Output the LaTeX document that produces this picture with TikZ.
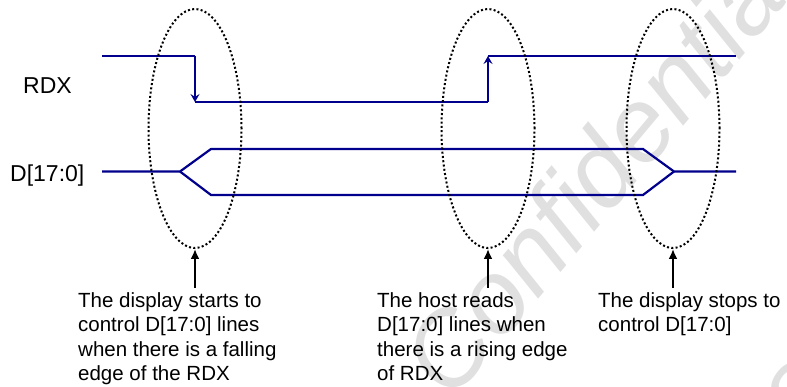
\documentclass[tikz,border=0pt]{standalone}
\usepackage{fontspec}
\setmainfont{Liberation Sans}
\usetikzlibrary{shapes.geometric,arrows.meta}
\definecolor{sig}{RGB}{0,0,140}
\definecolor{wm}{RGB}{224,224,224}
\tikzset{
  signal/.style={draw=sig,line width=2.2pt},
  edgearrow/.style={draw=sig,line width=2pt,-{Stealth[length=8pt,width=9pt,inset=3pt]}},
  focus/.style={draw=black,ellipse,line width=2pt,dash pattern=on 2pt off 2.3pt,minimum width=93pt,minimum height=239pt,inner sep=0pt},
  pointer/.style={draw=black,line width=2.8pt,-{Latex[length=10pt,width=9pt]}},
  note/.style={anchor=north west,inner sep=0pt,align=left,font=\fontsize{20.5}{24.5}\selectfont},
  siglabel/.style={anchor=base west,inner sep=0pt,font=\fontsize{23}{28}\selectfont},
  watermark/.style={rotate=50,text=wm,inner sep=0pt,font=\fontsize{104}{104}\selectfont\itshape}
}
\begin{document}
\begin{tikzpicture}[x=1pt,y=-1pt]
\useasboundingbox (0,0) rectangle (787,387);
% watermark
\node[watermark] (wmark) at (600,168) {Confidential};
\node[watermark] (wmark2) at (900,256) {Confidential};
% labels
\node[siglabel] (lrdx) at (23,94) {RDX};
\node[siglabel] (ld) at (10,181.7) {D[17:0]};
% RDX
\coordinate (r0) at (102,56);
\coordinate (r1) at (195,56);
\coordinate (r2) at (195,102);
\coordinate (r3) at (488,102);
\coordinate (r4) at (488,56);
\coordinate (r5) at (736,56);
\draw[signal] (r0) -- (r1);
\draw[edgearrow] (r1) -- (r2);
\draw[signal] (r2) -- (r3);
\draw[edgearrow] (r3) -- (r4);
\draw[signal] (r4) -- (r5);
% D bus
\coordinate (d0) at (102,171.5);
\coordinate (d1) at (180,171.5);
\coordinate (du) at (211,149);
\coordinate (dl) at (211,195);
\coordinate (eu) at (643,149);
\coordinate (el) at (643,195);
\coordinate (d2) at (674,171.5);
\coordinate (d3) at (736,171.5);
\draw[signal,line join=miter] (d0) -- (d1) -- (du) -- (eu) -- (d2) -- (d3);
\draw[signal,line join=miter] (d1) -- (dl) -- (el) -- (d2);
% ellipses
\node[focus] (e1) at (195,128.5) {};
\node[focus] (e2) at (488,128.5) {};
\node[focus] (e3) at (673,128.5) {};
% pointers
\coordinate (a1) at (195,288);
\coordinate (a2) at (488,288);
\coordinate (a3) at (673,288);
\draw[pointer] (a1) -- (e1.south);
\draw[pointer] (a2) -- (e2.south);
\draw[pointer] (a3) -- (e3.south);
% notes
\node[note] (t1) at (78,292) {The display starts to\\control D[17:0] lines\\when there is a falling\\edge of the RDX};
\node[note] (t2) at (377,292) {The host reads\\D[17:0] lines when\\there is a rising edge\\of RDX};
\node[note] (t3) at (598,292) {The display stops to\\control D[17:0]};
\end{tikzpicture}
\end{document}
